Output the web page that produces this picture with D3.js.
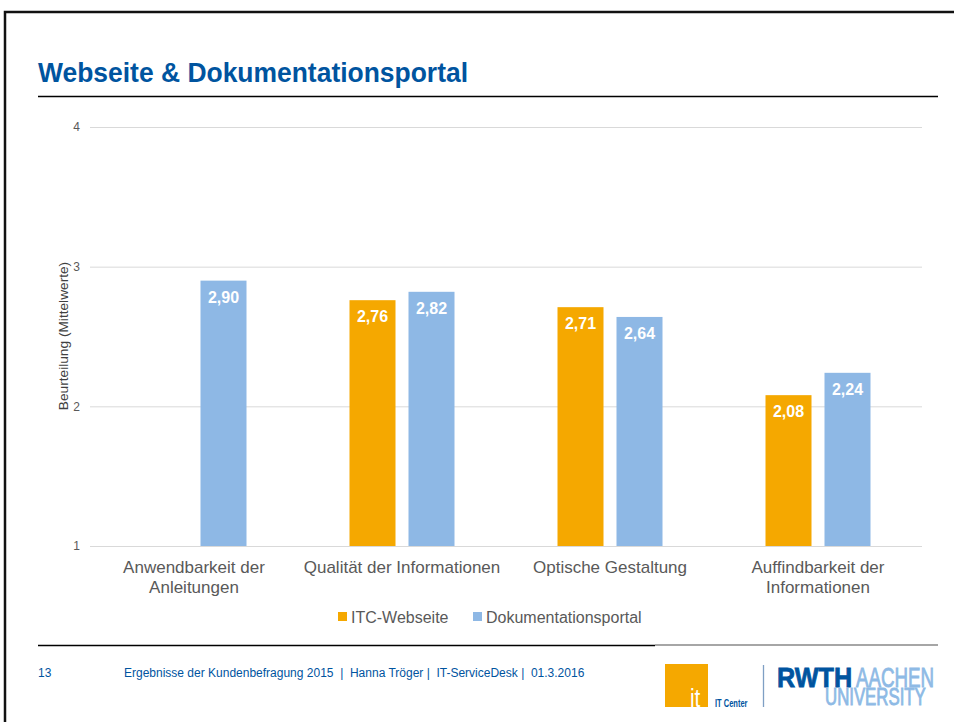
<!DOCTYPE html>
<html>
<head>
<meta charset="utf-8">
<script src="https://cdn.jsdelivr.net/npm/d3@7"></script>
<style>
  html, body { margin: 0; padding: 0; background: #fff; }
  svg { display: block; }
</style>
</head>
<body>
<svg id="chart" width="954" height="722"></svg>
<script>
// Survey results: mean ratings per aspect
const categories = [
  ["Anwendbarkeit der", "Anleitungen"],
  ["Qualität der Informationen"],
  ["Optische Gestaltung"],
  ["Auffindbarkeit der", "Informationen"]
];
const seriesNames = ["ITC-Webseite", "Dokumentationsportal"];
const itcWebseite = [null, 2.76, 2.71, 2.08];
const dokuPortal = [2.90, 2.82, 2.64, 2.24];
const yTicks = [1, 2, 3, 4];
const colors = ["#F5A800", "#8EB8E5"];

const svg = d3.select("#chart");
const blue = "#00549F";
const font = "'Liberation Sans', Arial, sans-serif";

// Slide frame
svg.append("rect")
  .attr("x", 5).attr("y", 12)
  .attr("width", 960).attr("height", 730)
  .attr("fill", "none").attr("stroke", "#111").attr("stroke-width", 2.5);

// Title and rule
svg.append("text")
  .attr("x", 38).attr("y", 82)
  .attr("font-family", font)
  .attr("font-weight", "bold").attr("font-size", 27)
  .attr("fill", blue)
  .attr("textLength", 430).attr("lengthAdjust", "spacingAndGlyphs")
  .text("Webseite & Dokumentationsportal");
svg.append("line")
  .attr("x1", 38).attr("x2", 938).attr("y1", 96.5).attr("y2", 96.5)
  .attr("stroke", "#000").attr("stroke-width", 1.3);

// Chart area
const plot = { left: 90, right: 922, top: 127, bottom: 546 };

const x0 = d3.scaleBand()
  .domain(d3.range(categories.length))
  .range([plot.left, plot.right]);
const y = d3.scaleLinear().domain([1, 4]).range([plot.bottom, plot.top]);

const commaFmt = d3.formatLocale({ decimal: ",", thousands: ".", grouping: [3], currency: ["", "€"] }).format(".2f");

// Gridlines + y axis labels
const yAxis = d3.axisLeft(y).tickValues(yTicks).tickSize(-(plot.right - plot.left)).tickPadding(10).tickFormat(d3.format("d"));
const gy = svg.append("g").attr("transform", `translate(${plot.left},0)`).call(yAxis);
gy.select(".domain").remove();
gy.selectAll(".tick line").attr("stroke", "#d9d9d9").attr("stroke-width", 1);
gy.selectAll(".tick text")
  .attr("font-family", font).attr("font-size", 12).attr("fill", "#595959");

svg.append("text")
  .attr("transform", `translate(67.5,336) rotate(-90)`)
  .attr("text-anchor", "middle")
  .attr("font-family", font).attr("font-size", 13.7).attr("fill", "#404040")
  .text("Beurteilung (Mittelwerte)");

// Bars
const barW = 46, gap = 13;
const offsets = [-(barW / 2 + gap / 2), (barW / 2 + gap / 2)];
const series = [itcWebseite, dokuPortal];

series.forEach((vals, si) => {
  const g = svg.append("g");
  const data = vals.map((v, i) => ({ v, i })).filter(d => d.v !== null);
  g.selectAll("rect").data(data).join("rect")
    .attr("x", d => x0(d.i) + x0.bandwidth() / 2 + offsets[si] - barW / 2)
    .attr("y", d => y(d.v))
    .attr("width", barW)
    .attr("height", d => y(1) - y(d.v))
    .attr("fill", colors[si]);
  g.selectAll("text").data(data).join("text")
    .attr("x", d => x0(d.i) + x0.bandwidth() / 2 + offsets[si])
    .attr("y", d => y(d.v) + 22)
    .attr("text-anchor", "middle")
    .attr("font-family", font).attr("font-weight", "bold").attr("font-size", 16)
    .attr("fill", "#fff")
    .text(d => commaFmt(d.v));
});

// Category labels
const cg = svg.append("g");
categories.forEach((lines, i) => {
  const t = cg.append("text")
    .attr("x", x0(i) + x0.bandwidth() / 2)
    .attr("y", 573)
    .attr("text-anchor", "middle")
    .attr("font-family", font).attr("font-size", 17).attr("fill", "#595959");
  lines.forEach((ln, k) => {
    t.append("tspan").attr("x", x0(i) + x0.bandwidth() / 2).attr("dy", k === 0 ? 0 : 20).text(ln);
  });
});

// Legend
const legendX = [338, 473];
seriesNames.forEach((name, si) => {
  svg.append("rect")
    .attr("x", legendX[si]).attr("y", 612)
    .attr("width", 9).attr("height", 9)
    .attr("fill", colors[si]);
  svg.append("text")
    .attr("x", legendX[si] + 13).attr("y", 622.5)
    .attr("font-family", font).attr("font-size", 16).attr("fill", "#595959")
    .text(name);
});

// Footer rule
svg.append("line")
  .attr("x1", 38).attr("x2", 655).attr("y1", 645.5).attr("y2", 645.5)
  .attr("stroke", "#000").attr("stroke-width", 1.3);
svg.append("line")
  .attr("x1", 655).attr("x2", 938).attr("y1", 645).attr("y2", 645)
  .attr("stroke", "#a6a6a6").attr("stroke-width", 2);

// Footer text
svg.append("text")
  .attr("x", 38).attr("y", 677)
  .attr("font-family", font).attr("font-size", 12).attr("fill", blue)
  .text("13");
svg.append("text")
  .attr("x", 124).attr("y", 677)
  .attr("font-family", font).attr("font-size", 12).attr("fill", blue)
  .attr("xml:space", "preserve")
  .text("Ergebnisse der Kundenbefragung 2015  |  Hanna Tröger |  IT-ServiceDesk |  01.3.2016");

// Logos: condensed lettering via horizontal scaling
function logoText(x, yb, sx, size, weight, fill, str, sw) {
  svg.append("g")
    .attr("transform", `translate(${x},${yb}) scale(${sx},1)`)
    .append("text")
    .attr("font-family", font).attr("font-weight", weight).attr("font-size", size)
    .attr("fill", fill)
    .attr("stroke", sw ? fill : "none").attr("stroke-width", sw || 0)
    .text(str);
}
svg.append("rect")
  .attr("x", 665).attr("y", 664).attr("width", 43).attr("height", 43)
  .attr("fill", "#F5A800");
logoText(690, 707, 0.8, 26, "normal", "#fff", "it");
logoText(715, 707, 0.75, 10, "bold", blue, "IT Center");
svg.append("line")
  .attr("x1", 763.5).attr("x2", 763.5).attr("y1", 665).attr("y2", 707)
  .attr("stroke", "#7f9fc4").attr("stroke-width", 1.3);
logoText(777, 687, 0.9, 28, "bold", blue, "RWTH", 0.8);
logoText(856, 687, 0.67, 28, "normal", "#8EBAE5", "AACHEN", 0.9);
logoText(825, 705, 0.7, 24, "normal", "#8EBAE5", "UNIVERSITY", 0.9);
</script>
</body>
</html>
